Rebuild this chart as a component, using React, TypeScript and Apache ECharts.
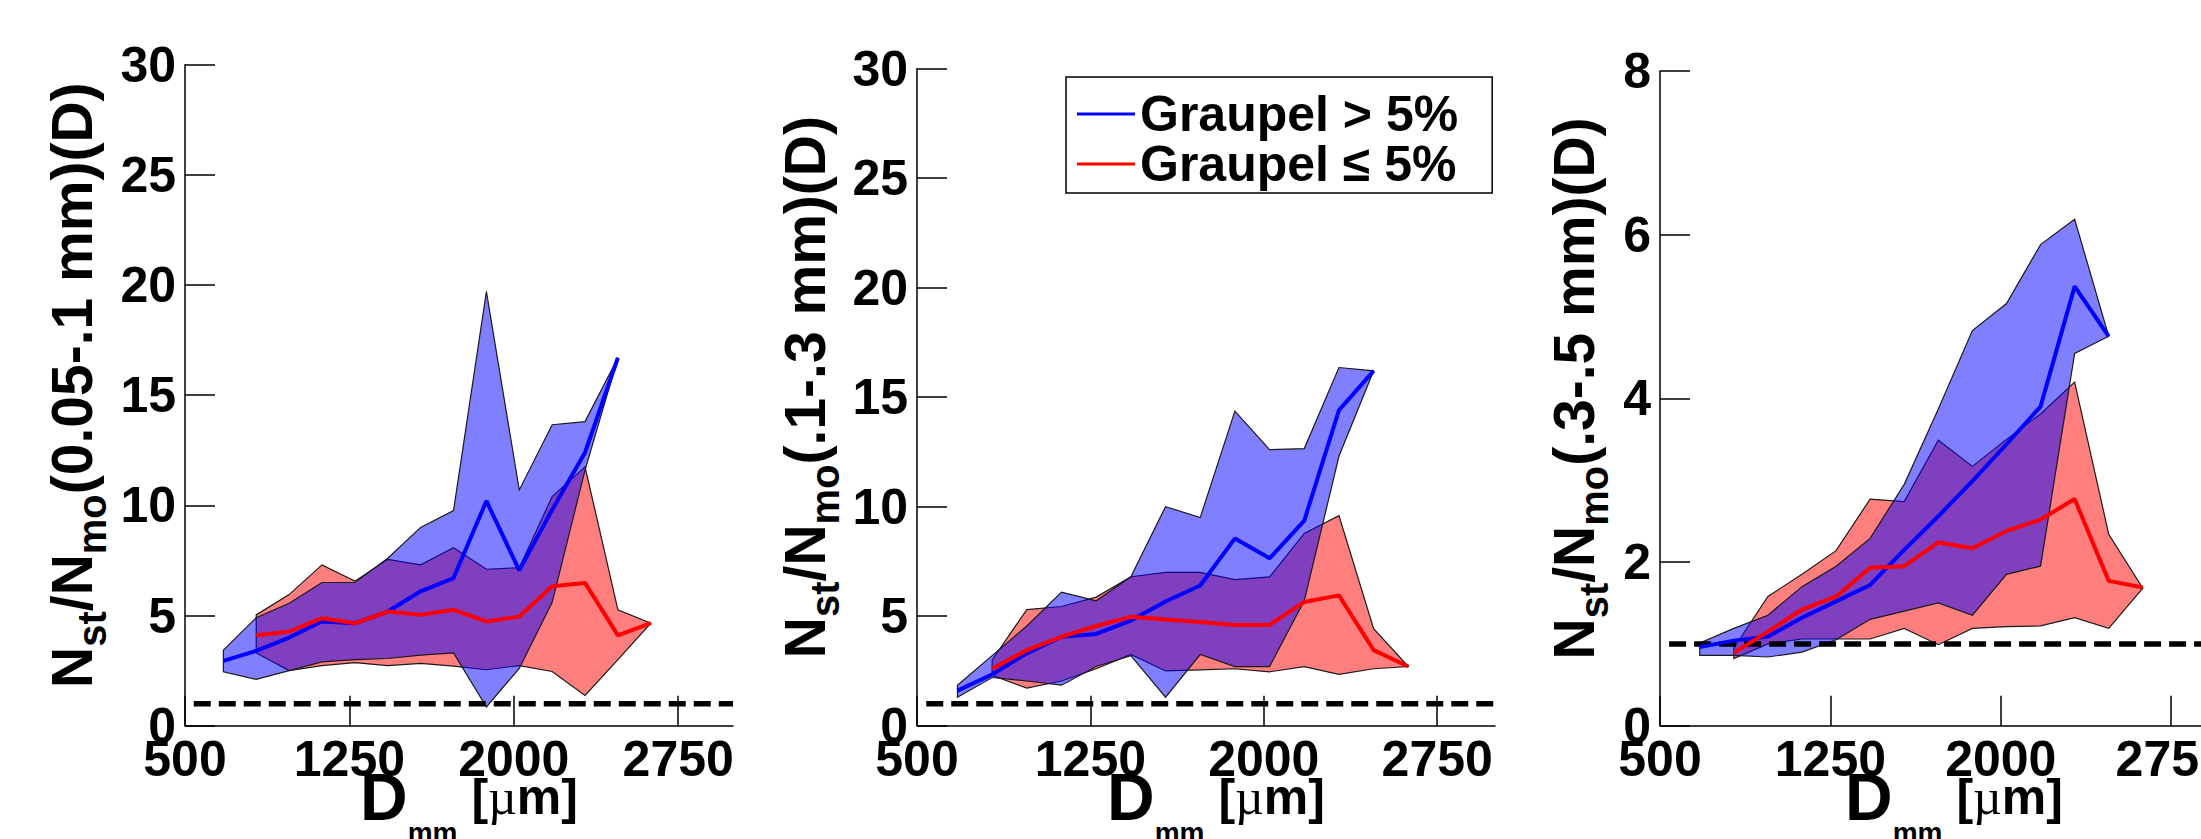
import React, { useEffect, useRef } from "react";
import * as echarts from "echarts";

const FONT = "'Liberation Sans', Arial, Helvetica, sans-serif";

// Bin centres (D_mm, µm)
const BLUE_D = [675, 825, 975, 1125, 1275, 1425, 1575, 1725, 1875, 2025, 2175, 2325, 2475];
const RED_D = [825, 975, 1125, 1275, 1425, 1575, 1725, 1875, 2025, 2175, 2325, 2475, 2625];

// Panel 1: 0.05-.1 mm
const P1_BLUE_LO = [2.45, 2.1, 2.5, 2.9, 3.0, 3.05, 3.2, 3.3, 0.85, 2.6, 5.6, 11.6, 16.7];
const P1_BLUE_MED = [2.94, 3.4, 4.0, 4.73, 4.65, 5.18, 6.1, 6.7, 10.2, 7.05, 9.8, 12.4, 16.7];
const P1_BLUE_HI = [3.43, 4.9, 5.56, 6.5, 6.5, 7.6, 9.0, 9.76, 19.7, 10.7, 13.66, 13.8, 16.7];
const P1_RED_LO = [3.3, 2.5, 2.73, 2.86, 2.73, 2.83, 2.7, 2.54, 2.73, 2.46, 1.37, 3.0, 4.65];
const P1_RED_MED = [4.11, 4.27, 4.88, 4.65, 5.18, 5.03, 5.26, 4.73, 4.95, 6.33, 6.48, 4.1, 4.65];
const P1_RED_HI = [5.03, 5.95, 7.3, 6.56, 7.55, 7.3, 8.08, 7.1, 7.17, 10.4, 11.75, 5.26, 4.65];

// Panel 2: .1-.3 mm
const P2_BLUE_LO = [1.3, 2.2, 2.04, 1.85, 2.7, 3.2, 1.3, 3.25, 2.7, 2.7, 5.7, 12.3, 16.2];
const P2_BLUE_MED = [1.6, 2.34, 3.3, 4.06, 4.19, 4.8, 5.67, 6.4, 8.55, 7.64, 9.36, 14.4, 16.2];
const P2_BLUE_HI = [1.85, 3.2, 4.55, 6.1, 5.7, 6.8, 10.0, 9.5, 14.36, 12.6, 12.65, 16.35, 16.2];
const P2_RED_LO = [2.3, 1.72, 2.04, 2.6, 3.25, 2.5, 2.55, 2.6, 2.46, 2.7, 2.34, 2.6, 2.7];
const P2_RED_MED = [2.6, 3.45, 4.06, 4.55, 4.97, 4.85, 4.73, 4.6, 4.6, 5.65, 5.95, 3.45, 2.7];
const P2_RED_HI = [3.0, 5.3, 5.44, 5.87, 6.8, 7.0, 7.0, 6.67, 6.79, 8.78, 9.59, 4.43, 2.7];

// Panel 3: .3-.5 mm
const P3_BLUE_LO = [0.86, 0.86, 0.84, 0.9, 1.05, 1.3, 1.4, 1.5, 1.35, 1.85, 1.95, 4.55, 4.76];
const P3_BLUE_MED = [0.96, 1.04, 1.09, 1.32, 1.52, 1.72, 2.15, 2.56, 2.99, 3.44, 3.9, 5.37, 4.76];
const P3_BLUE_HI = [1.01, 1.19, 1.35, 1.7, 1.95, 2.29, 2.95, 3.87, 4.83, 5.16, 5.88, 6.19, 4.76];
const P3_RED_LO = [0.82, 1.0, 1.06, 1.06, 1.06, 1.19, 0.99, 1.19, 1.21, 1.22, 1.32, 1.19, 1.68];
const P3_RED_MED = [0.89, 1.15, 1.42, 1.58, 1.93, 1.95, 2.24, 2.17, 2.38, 2.52, 2.77, 1.77, 1.69];
const P3_RED_HI = [0.95, 1.58, 1.85, 2.14, 2.77, 2.74, 3.49, 3.17, 3.5, 3.81, 4.2, 2.34, 1.68];

// Reference line N_st/N_mo = 1
const REF_D = [540, 3000];
const REF_V = [1, 1];

// Ticks and texts
const X_TICKS = [500, 1250, 2000, 2750];
const X_RANGE = [500, 3000];
const Y_RANGE_A = [0, 30];
const Y_RANGE_B = [0, 8];
const Y_STEP_A = 5;
const Y_STEP_B = 2;
const LEGEND_NAMES = ["Graupel > 5%", "Graupel \u2264 5%"];
const Y_TITLES = ["(0.05-.1 mm)(D)", "(.1-.3 mm)(D)", "(.3-.5 mm)(D)"];

const PANELS = [
  {
    blue: [P1_BLUE_LO, P1_BLUE_MED, P1_BLUE_HI],
    red: [P1_RED_LO, P1_RED_MED, P1_RED_HI],
    yRange: Y_RANGE_A, yStep: Y_STEP_A, title: Y_TITLES[0],
    grid: { left: 185, top: 64.7, width: 548, height: 661 }, nameGap: 73,
  },
  {
    blue: [P2_BLUE_LO, P2_BLUE_MED, P2_BLUE_HI],
    red: [P2_RED_LO, P2_RED_MED, P2_RED_HI],
    yRange: Y_RANGE_A, yStep: Y_STEP_A, title: Y_TITLES[1],
    grid: { left: 917, top: 68.5, width: 578, height: 657.2 }, nameGap: 72,
  },
  {
    blue: [P3_BLUE_LO, P3_BLUE_MED, P3_BLUE_HI],
    red: [P3_RED_LO, P3_RED_MED, P3_RED_HI],
    yRange: Y_RANGE_B, yStep: Y_STEP_B, title: Y_TITLES[2],
    grid: { left: 1660, top: 71.2, width: 568, height: 654.5 }, nameGap: 46,
  },
];

const BLUE = "#0000ff";
const RED = "#ff0000";
const BLUE_FILL = "rgba(0,0,255,0.5)";
const RED_FILL = "rgba(255,0,0,0.5)";

const Y_RICH = {
  b: { fontSize: 57, fontWeight: "bold", fontFamily: FONT, color: "#000", lineHeight: 80 },
  s: { fontSize: 40, fontWeight: "bold", fontFamily: FONT, color: "#000", lineHeight: 30, verticalAlign: "bottom" },
};

const X_RICH = {
  d: { fontSize: 66, fontWeight: "bold", fontFamily: FONT, color: "#000", lineHeight: 100 },
  s: { fontSize: 28, fontWeight: "bold", fontFamily: FONT, color: "#000", lineHeight: 10, verticalAlign: "bottom" },
  b: { fontSize: 50, fontWeight: "bold", fontFamily: FONT, color: "#000", lineHeight: 100 },
  u: { fontSize: 50, fontWeight: "normal", fontFamily: "'Liberation Serif', serif", color: "#000", lineHeight: 100 },
};

function band(idx: number, xs: number[], lo: number[], hi: number[], fill: string, z: number) {
  return {
    type: "custom",
    coordinateSystem: "cartesian2d",
    xAxisIndex: idx,
    yAxisIndex: idx,
    silent: true,
    z,
    data: [[xs[0], lo[0]]],
    renderItem: (_params: any, api: any) => {
      const pts: number[][] = [];
      for (let k = 0; k < xs.length; k++) pts.push(api.coord([xs[k], hi[k]]));
      for (let k = xs.length - 1; k >= 0; k--) pts.push(api.coord([xs[k], lo[k]]));
      return {
        type: "polygon",
        shape: { points: pts },
        style: { fill, stroke: "#1a1a1a", lineWidth: 1.2 },
      };
    },
  };
}

function buildOption() {
  const grid: any[] = [];
  const xAxis: any[] = [];
  const yAxis: any[] = [];
  const series: any[] = [];
  PANELS.forEach((p, i) => {
    grid.push({ ...p.grid, containLabel: false, outerBoundsMode: "none" });
    xAxis.push({
      gridIndex: i,
      type: "value",
      min: X_RANGE[0],
      max: X_RANGE[1],
      interval: 750,
      axisLine: { show: true, lineStyle: { color: "#000", width: 1.5 } },
      axisTick: { show: true, inside: true, length: 30, lineStyle: { color: "#000", width: 1.5 }, customValues: X_TICKS },
      axisLabel: {
        customValues: X_TICKS,
        formatter: (v: number) => String(v),
        fontSize: 50,
        fontWeight: "bold",
        fontFamily: FONT,
        color: "#000",
        margin: 8,
      },
      splitLine: { show: false },
      name: "{d|D}{s|mm}{b| [}{u|\u00b5}{b|m]}",
      nameLocation: "middle",
      nameGap: 21,
      nameMoveOverlap: false,
      nameTextStyle: { rich: X_RICH, padding: [0, 0, 0, 20] },
    });
    yAxis.push({
      gridIndex: i,
      type: "value",
      min: p.yRange[0],
      max: p.yRange[1],
      interval: p.yStep,
      axisLine: { show: true, lineStyle: { color: "#000", width: 1.5 } },
      axisTick: { show: true, inside: true, length: 30, lineStyle: { color: "#000", width: 1.5 } },
      axisLabel: { fontSize: 50, fontWeight: "bold", fontFamily: FONT, color: "#000", margin: 9 },
      splitLine: { show: false },
      name: "{b|N}{s|st}{b|/N}{s|mo}{b|" + p.title + "}",
      nameLocation: "middle",
      nameRotate: 90,
      nameGap: p.nameGap,
      nameMoveOverlap: false,
      nameTextStyle: { rich: Y_RICH, padding: [0, 0, 0, 20] },
    });
    series.push(band(i, RED_D, p.red[0], p.red[2], RED_FILL, 1));
    series.push(band(i, BLUE_D, p.blue[0], p.blue[2], BLUE_FILL, 2));
    series.push({
      type: "line",
      xAxisIndex: i,
      yAxisIndex: i,
      data: REF_D.map((d, k) => [d, REF_V[k]]),
      showSymbol: false,
      symbol: "none",
      silent: true,
      lineStyle: { color: "#000", width: 5.5, type: [17, 8] },
      z: 3,
    });
    series.push({
      type: "line",
      name: LEGEND_NAMES[0],
      xAxisIndex: i,
      yAxisIndex: i,
      data: BLUE_D.map((d, k) => [d, p.blue[1][k]]),
      showSymbol: false,
      symbol: "none",
      lineStyle: { color: BLUE, width: 4 },
      itemStyle: { color: BLUE },
      z: 4,
    });
    series.push({
      type: "line",
      name: LEGEND_NAMES[1],
      xAxisIndex: i,
      yAxisIndex: i,
      data: RED_D.map((d, k) => [d, p.red[1][k]]),
      showSymbol: false,
      symbol: "none",
      lineStyle: { color: RED, width: 4 },
      itemStyle: { color: RED },
      z: 5,
    });
  });

  return {
    animation: false,
    backgroundColor: "#fff",
    textStyle: { fontFamily: FONT },
    grid,
    xAxis,
    yAxis,
    legend: {
      show: true,
      data: LEGEND_NAMES,
      orient: "vertical",
      left: 1066,
      top: 77,
      icon: "rect",
      itemWidth: 58,
      itemHeight: 3,
      itemGap: 0,
      padding: [12, 34, 4, 11],
      borderColor: "#000",
      borderWidth: 1.5,
      backgroundColor: "#fff",
      selectedMode: false,
      textStyle: { fontSize: 50, fontWeight: "bold", color: "#000", fontFamily: FONT, lineHeight: 46 },
    },
    series,
  };
}

export default function App() {
  const ref = useRef<HTMLDivElement>(null);
  useEffect(() => {
    if (!ref.current) return;
    const chart = echarts.init(ref.current, undefined, { renderer: "svg" });
    chart.setOption(buildOption() as any);
    return () => chart.dispose();
  }, []);
  return (
    <div
      ref={ref}
      style={{ position: "absolute", left: 0, top: 0, width: 2201, height: 839, background: "#fff" }}
    />
  );
}
